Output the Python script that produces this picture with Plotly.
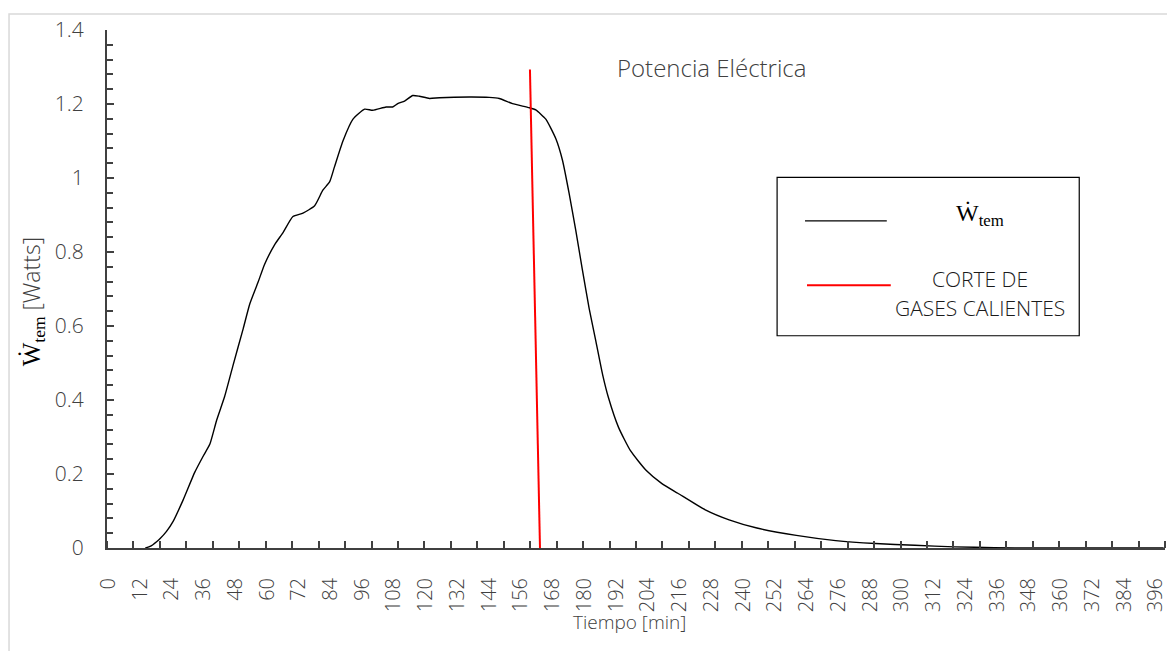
import plotly.graph_objects as go

# ---- data ----
tiempo_min = [14, 16, 18.25, 19.5, 22, 24.5, 28.3, 32.7, 36, 38.4, 40.9, 44, 47.2, 51, 53.5,
              56.6, 59.1, 62.9, 66, 69.8, 73.6, 78, 81.1, 83.7, 85.5, 88.7, 92.5, 96.9, 100,
              105, 107.5, 109.4, 112, 115.1, 117.6, 121.4, 125.2, 136.5, 144, 147.8, 152.8,
              159.1, 161.6, 165.4, 169.2, 171.7, 174.2, 176.7, 179.2, 181.8, 184.3, 186.9,
              189.1, 192.9, 197.4, 203.3, 209.3, 215.3, 225.7, 234.7, 245.2, 260.1, 275, 290,
              304.9, 319.9, 335, 350, 399]
w_tem = [0.0, 0.005, 0.017, 0.025, 0.045, 0.072, 0.13, 0.205, 0.25, 0.281, 0.344, 0.41, 0.495,
         0.593, 0.66, 0.718, 0.767, 0.82, 0.852, 0.896, 0.905, 0.925, 0.967, 0.99, 1.03, 1.10,
         1.159, 1.186, 1.183, 1.192, 1.192, 1.201, 1.208, 1.223, 1.221, 1.215, 1.217, 1.219,
         1.218, 1.215, 1.201, 1.19, 1.184, 1.159, 1.106, 1.048, 0.959, 0.860, 0.753, 0.647,
         0.560, 0.468, 0.406, 0.326, 0.263, 0.210, 0.174, 0.148, 0.103, 0.076, 0.054, 0.034,
         0.020, 0.012, 0.0075, 0.003, 0.001, 0.0, 0.0]

corte_x = [159.4, 163.2]
corte_y = [1.293, 0.0]

x_tick_vals = list(range(0, 397, 12))
x_tick_text = [str(v) for v in x_tick_vals]
x_tick_marks = [-0.5 + 10 * k for k in range(41)]

FONT = "Open Sans"
GREY = "#404040"

fig = go.Figure()
fig.add_trace(go.Scatter(x=tiempo_min, y=w_tem, mode="lines",
                         line=dict(color="black", width=1.4, shape="spline", smoothing=0.5),
                         showlegend=False, hoverinfo="skip"))
fig.add_trace(go.Scatter(x=corte_x, y=corte_y, mode="lines",
                         line=dict(color="#ff0000", width=2),
                         showlegend=False, hoverinfo="skip"))

# The page has an 8px body margin; size the figure so the plot lands where the reference has it.
OFF = 8
W, H = 1175 - OFF, 651 - OFF
PL, PR, PT, PB = 107, 1168, 25, 548.5   # plot area in page pixels
L, R, T = PL - OFF, (1175 - PR), PT - OFF
B = H - (PB - OFF)
pw, ph = PR - PL, PB - PT

def px(x):
    return (x - PL) / pw

def py(y):
    return (PB - y) / ph

fig.update_layout(
    width=W, height=H,
    margin=dict(l=L, r=R, t=T, b=B, pad=0),
    paper_bgcolor="white", plot_bgcolor="white",
    showlegend=False,
    font=dict(family=FONT, color=GREY, weight=300),
    xaxis=dict(
        range=[-0.5, 399.5], tickmode="array", tickvals=x_tick_vals, ticktext=x_tick_text,
        tickangle=-90, ticks="", showgrid=False, zeroline=False,
        showline=True, linecolor=GREY, linewidth=2,
        tickfont=dict(size=20, family=FONT, color=GREY, weight=300),
        ticklabelstandoff=20,
        minor=dict(tickmode="array", tickvals=x_tick_marks, ticks="inside", ticklen=7,
                   tickwidth=1.5, tickcolor=GREY, showgrid=False),
    ),
    yaxis=dict(
        range=[0, 1.4], dtick=0.2, tick0=0, ticks="inside", ticklen=7, tickwidth=1.5,
        tickcolor=GREY, showgrid=False, zeroline=False,
        showline=True, linecolor=GREY, linewidth=2,
        tickfont=dict(size=21, family=FONT, color=GREY, weight=300),
        ticklabelstandoff=17,
        minor=dict(dtick=0.04, tick0=0, ticks="inside", ticklen=6, tickwidth=1.5,
                   tickcolor=GREY, showgrid=False),
    ),
)

shapes = []
# chart-area border (left and top visible)
shapes.append(dict(type="rect", xref="paper", yref="paper",
                   x0=px(8.75), x1=px(1190), y0=py(8.75), y1=py(700),
                   line=dict(color="#d9d9d9", width=1.5), layer="below"))
# legend box
shapes.append(dict(type="rect", xref="paper", yref="paper",
                   x0=px(779), x1=px(1082), y0=py(334), y1=py(174),
                   line=dict(color="black", width=1.2), fillcolor="white"))
shapes.append(dict(type="line", xref="paper", yref="paper",
                   x0=px(807), x1=px(889), y0=py(218), y1=py(218),
                   line=dict(color="black", width=1.3)))
shapes.append(dict(type="line", xref="paper", yref="paper",
                   x0=px(809), x1=px(893), y0=py(283), y1=py(283),
                   line=dict(color="#ff0000", width=2)))
fig.update_layout(shapes=shapes)

ann = []
ann.append(dict(text="Potencia Eléctrica", xref="paper", yref="paper",
                x=px(713), y=py(63), xanchor="center", yanchor="middle", showarrow=False,
                font=dict(size=24, family=FONT, color=GREY, weight=300)))
ann.append(dict(text="Tiempo [min]", xref="paper", yref="paper",
                x=px(631), y=py(623), xanchor="center", yanchor="middle", showarrow=False,
                font=dict(size=19, family=FONT, color=GREY, weight=300)))
ann.append(dict(text="Ẇ<sub>tem</sub>",
                xref="paper", yref="paper", x=px(982), y=py(212),
                xanchor="center", yanchor="middle", showarrow=False,
                font=dict(size=24, family="Liberation Serif", color="black")))
ann.append(dict(text="CORTE DE", xref="paper", yref="paper", x=px(982), y=py(277),
                xanchor="center", yanchor="middle", showarrow=False,
                font=dict(size=21, family=FONT, color="#1a1a1a", weight=300)))
ann.append(dict(text="GASES CALIENTES", xref="paper", yref="paper", x=px(982), y=py(306),
                xanchor="center", yanchor="middle", showarrow=False,
                font=dict(size=21, family=FONT, color="#1a1a1a", weight=300)))
ann.append(dict(text="<span style=\"font-family:'Liberation Serif';font-weight:400;color:black;font-size:25px\">Ẇ<sub>tem</sub></span> [Watts]",
                xref="paper", yref="paper", x=px(32), y=py(300),
                xanchor="center", yanchor="middle", showarrow=False, textangle=-90,
                font=dict(size=23, family=FONT, color=GREY, weight=300)))
fig.update_layout(annotations=ann)

fig.write_html("out.html")
